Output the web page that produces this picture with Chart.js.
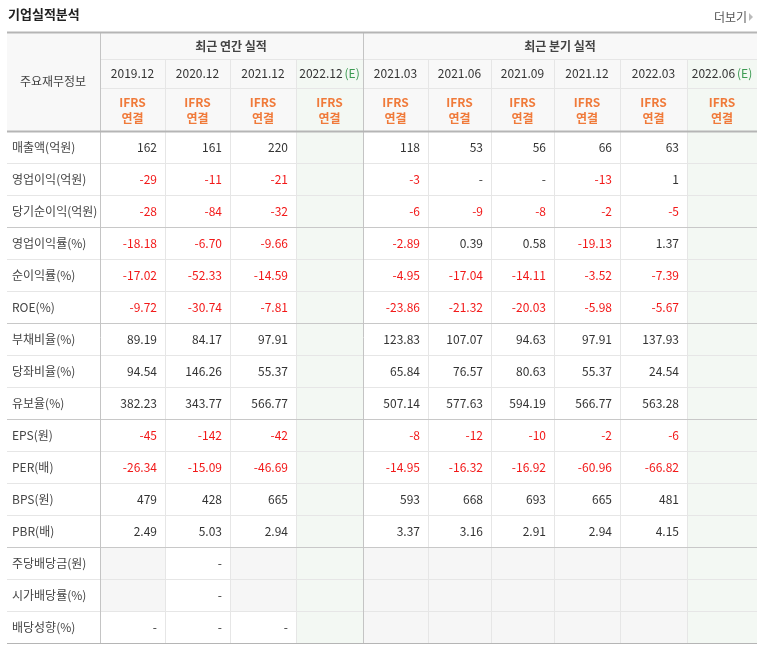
<!DOCTYPE html>
<html><head><meta charset="utf-8">
<script src="https://cdn.jsdelivr.net/npm/chart.js@4"></script>
<style>html,body{margin:0;padding:0;background:#fff}#w{width:760px;height:651px}</style>
</head><body><div id="w"><canvas id="c"></canvas></div>
<script>
const annualPeriods = ['2019.12','2020.12','2021.12','2022.12'];
const quarterPeriods = ['2021.03','2021.06','2021.09','2021.12','2022.03','2022.06'];
const estimateCols = [3, 9];
const rowLabels = ['매출액(억원)','영업이익(억원)','당기순이익(억원)','영업이익률(%)','순이익률(%)','ROE(%)','부채비율(%)','당좌비율(%)','유보율(%)','EPS(원)','PER(배)','BPS(원)','PBR(배)','주당배당금(원)','시가배당률(%)','배당성향(%)'];
const groupEnds = [3, 6, 9, 13];
const 매출액 = ['162','161','220','','118','53','56','66','63',''];
const 영업이익 = ['-29','-11','-21','','-3','-','-','-13','1',''];
const 당기순이익 = ['-28','-84','-32','','-6','-9','-8','-2','-5',''];
const 영업이익률 = ['-18.18','-6.70','-9.66','','-2.89','0.39','0.58','-19.13','1.37',''];
const 순이익률 = ['-17.02','-52.33','-14.59','','-4.95','-17.04','-14.11','-3.52','-7.39',''];
const ROE = ['-9.72','-30.74','-7.81','','-23.86','-21.32','-20.03','-5.98','-5.67',''];
const 부채비율 = ['89.19','84.17','97.91','','123.83','107.07','94.63','97.91','137.93',''];
const 당좌비율 = ['94.54','146.26','55.37','','65.84','76.57','80.63','55.37','24.54',''];
const 유보율 = ['382.23','343.77','566.77','','507.14','577.63','594.19','566.77','563.28',''];
const EPS = ['-45','-142','-42','','-8','-12','-10','-2','-6',''];
const PER = ['-26.34','-15.09','-46.69','','-14.95','-16.32','-16.92','-60.96','-66.82',''];
const BPS = ['479','428','665','','593','668','693','665','481',''];
const PBR = ['2.49','5.03','2.94','','3.37','3.16','2.91','2.94','4.15',''];
const 주당배당금 = [null,'-',null,'',null,null,null,null,null,''];
const 시가배당률 = [null,'-',null,'',null,null,null,null,null,''];
const 배당성향 = ['-','-','-','',null,null,null,null,null,''];
const rows = [매출액,영업이익,당기순이익,영업이익률,순이익률,ROE,부채비율,당좌비율,유보율,EPS,PER,BPS,PBR,주당배당금,시가배당률,배당성향];

const colEdges = [7,100,165,230,296,363,428,491,554,620,687,757];
const headEdges = [32,59,88,131];
const rowH = 32;
const KR = '"Noto Sans CJK KR", "Noto Sans", sans-serif';

const tablePlugin = {
  id: 'table',
  afterDraw(chart) {
    const ctx = chart.ctx, X = v => chart.scales.x.getPixelForValue(v), Y = v => chart.scales.y.getPixelForValue(v);
    const rowTop = i => headEdges[3] + i * rowH;
    const bottom = rowTop(rows.length);
    const rect = (x0,y0,x1,y1,c) => { ctx.fillStyle = c; ctx.fillRect(X(x0),Y(y0),X(x1)-X(x0),Y(y1)-Y(y0)); };
    const hline = (x0,x1,y,c,w) => { ctx.strokeStyle=c; ctx.lineWidth=w||1; ctx.beginPath(); ctx.moveTo(X(x0),Y(y)+0.5); ctx.lineTo(X(x1),Y(y)+0.5); ctx.stroke(); };
    const vline = (x,y0,y1,c,w) => { ctx.strokeStyle=c; ctx.lineWidth=w||1; ctx.beginPath(); ctx.moveTo(X(x)+0.5,Y(y0)); ctx.lineTo(X(x)+0.5,Y(y1)); ctx.stroke(); };
    const text = (s,x,y,c,font,align) => { ctx.fillStyle=c; ctx.font=font; ctx.textAlign=align||'center'; ctx.textBaseline='middle'; ctx.fillText(s,X(x),Y(y)); };
    ctx.save();
    // title
    text('기업실적분석', 8, 14, '#222', 'bold 13px '+KR, 'left');
    text('더보기', 747, 17, '#555', '12px '+KR, 'right');
    ctx.fillStyle='#bbb'; ctx.beginPath(); ctx.moveTo(X(749),Y(13)); ctx.lineTo(X(753),Y(17)); ctx.lineTo(X(749),Y(21)); ctx.fill();
    // header bg
    rect(7,32,757,131,'#f8f8f8');
    // estimate columns bg
    estimateCols.forEach(c => { rect(colEdges[c+1],headEdges[1],colEdges[c+2],bottom,'#f3f8f3'); });
    // dividend gray cells
    rows.forEach((r,i) => r.forEach((v,j) => { if (v === null) rect(colEdges[j+1],rowTop(i),colEdges[j+2],rowTop(i+1),'#f6f6f6'); }));
    // grid lines
    const light = '#e6e6e6';
    hline(100,757,headEdges[1],light); hline(100,757,headEdges[2],light);
    for (let i=1;i<rows.length;i++) { if (!groupEnds.includes(i)) hline(7,757,rowTop(i),light); }
    for (let c=2;c<colEdges.length-1;c++) { if (c!==5) vline(colEdges[c],headEdges[1],bottom,light); }
    groupEnds.forEach(i => hline(7,757,rowTop(i),'#c8c8c8'));
    vline(100,32,bottom,'#c4c4c4'); vline(363,32,bottom,'#c4c4c4');
    hline(7,757,32,'#b5b5b5',2); hline(7,757,131,'#b5b5b5',2); hline(7,757,bottom,'#b5b5b5');
    // headers
    text('주요재무정보', 53, 81, '#444', '12px '+KR);
    text('최근 연간 실적', 231, 46, '#444', 'bold 12px '+KR);
    text('최근 분기 실적', 560, 46, '#444', 'bold 12px '+KR);
    const periods = annualPeriods.concat(quarterPeriods);
    periods.forEach((p,j) => {
      const cx = (colEdges[j+1]+colEdges[j+2])/2;
      const est = estimateCols.includes(j);
      ctx.font = '12px '+KR;
      const w1 = ctx.measureText(p).width, w2 = est ? ctx.measureText('(E)').width + 2 : 0;
      const sx = X(cx) - (w1+w2)/2;
      ctx.textAlign='left'; ctx.textBaseline='middle'; ctx.fillStyle='#333'; ctx.fillText(p, sx, Y(73));
      if (est) { ctx.fillStyle='#3c9a52'; ctx.fillText('(E)', sx+w1+2, Y(73)); }
      text('IFRS', cx, 102, '#f07a3a', 'bold 12px '+KR);
      text('연결', cx, 118, '#f07a3a', 'bold 12px '+KR);
    });
    // body
    rows.forEach((r,i) => {
      const cy = rowTop(i) + rowH/2;
      text(rowLabels[i], 12, cy, '#444', '12px '+KR, 'left');
      r.forEach((v,j) => {
        if (!v) return;
        const red = v.startsWith('-') && v.length > 1;
        text(v, colEdges[j+2]-8, cy, red ? '#f21818' : '#333', '12px '+KR, 'right');
      });
    });
    ctx.restore();
  }
};

new Chart(document.getElementById('c'), {
  type: 'scatter',
  data: { datasets: [{ data: [] }] },
  options: {
    responsive: true, maintainAspectRatio: false, animation: false,
    layout: { padding: 0 },
    plugins: { legend: { display: false }, tooltip: { enabled: false } },
    scales: {
      x: { type: 'linear', min: 0, max: 760, display: false },
      y: { type: 'linear', min: 0, max: 651, reverse: true, display: false }
    }
  },
  plugins: [tablePlugin]
});
</script></body></html>
